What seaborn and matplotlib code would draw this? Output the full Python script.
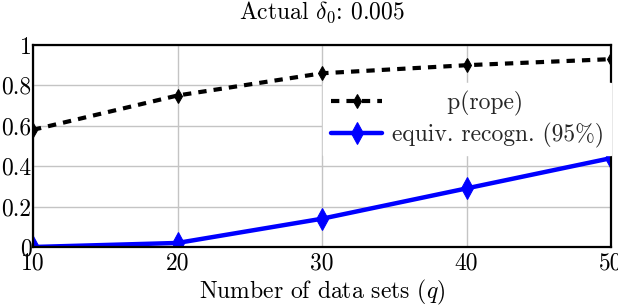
import matplotlib
matplotlib.use("Agg")
import matplotlib.pyplot as plt
import seaborn as sns
import pandas as pd

q = [10, 20, 30, 40, 50]
p_rope = [0.58, 0.75, 0.86, 0.90, 0.93]
equiv = [0.0, 0.02, 0.14, 0.29, 0.44]
xticks = [10, 20, 30, 40, 50]
yticks = [0, 0.2, 0.4, 0.6, 0.8, 1]
ytick_labels = ["0", "0.2", "0.4", "0.6", "0.8", "1"]

sns.set_theme(style="whitegrid")
plt.rcParams['font.family'] = ['cmr10', 'DejaVu Serif']
plt.rcParams['mathtext.fontset'] = 'cm'
plt.rcParams['axes.formatter.use_mathtext'] = True

FS = 17

fig = plt.figure(figsize=(6.18, 3.08), dpi=100)
ax = fig.add_axes([33/618, 1-247/308, (611-33)/618, (247-45)/308])

df1 = pd.DataFrame({"q": q, "v": p_rope})
df2 = pd.DataFrame({"q": q, "v": equiv})
sns.lineplot(data=df1, x="q", y="v", ax=ax, color="black", lw=3.0,
             linestyle=(0, (2.0, 1.7)), marker="d", markersize=7,
             markeredgecolor="black", label=" " * 7 + "p(rope)")
sns.lineplot(data=df2, x="q", y="v", ax=ax, color="#0000ff", lw=3.2,
             marker="d", markersize=11, markeredgecolor="#0000ff",
             label="equiv. recogn. (95%)")

ax.set_xlim(10, 50)
ax.set_ylim(0, 1)
ax.set_xticks(xticks)
ax.set_xticklabels([str(t) for t in xticks])
ax.set_yticks(yticks)
ax.set_yticklabels(ytick_labels)
ax.tick_params(axis='y', labelsize=FS, length=0, pad=1, colors='black')
ax.tick_params(axis='x', labelsize=FS, length=0, pad=4, colors='black')
ax.grid(True, color="#c4c4c4", lw=1)
for s in ax.spines.values():
    s.set_color("black")
    s.set_linewidth(1.6)
    s.set_visible(True)
ax.set_xlabel("Number of data sets ($q$)", fontsize=FS, color='black', labelpad=2)
ax.set_ylabel("")
ax.set_title(r"Actual $\delta_0$: 0.005", fontsize=FS, color='black', pad=19)

leg = ax.legend(loc="upper right", bbox_to_anchor=(1.0, 0.81), frameon=True,
                fontsize=FS, handlelength=2.2, borderpad=0.3, labelspacing=0.3,
                handletextpad=0.4, fancybox=False, borderaxespad=0)
leg.get_frame().set_facecolor("white")
leg.get_frame().set_edgecolor("white")
leg.get_frame().set_alpha(1)

fig.savefig("out.png", dpi=100)
